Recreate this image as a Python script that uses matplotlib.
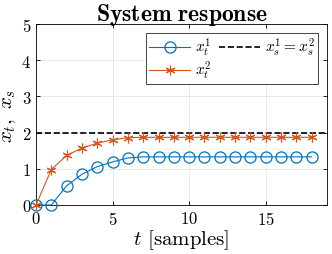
import numpy as np
import matplotlib
matplotlib.use('Agg')
import matplotlib.pyplot as plt

plt.rcParams['mathtext.fontset'] = 'cm'
plt.rcParams['font.family'] = 'serif'
plt.rcParams['font.serif'] = ['cmr10']
plt.rcParams['axes.formatter.use_mathtext'] = True

# data
t = list(range(19))
x1 = [0, 0, 0.53, 0.85, 1.06, 1.19, 1.30, 1.33, 1.33, 1.33, 1.33,
      1.33, 1.33, 1.33, 1.33, 1.33, 1.33, 1.33, 1.33]
x2 = [0, 0.98, 1.37, 1.57, 1.71, 1.80, 1.86, 1.87, 1.87, 1.87, 1.87,
      1.87, 1.87, 1.87, 1.87, 1.87, 1.87, 1.87, 1.87]
x_s = 2.0

blue = '#0072BD'
orange = '#D95319'

fig = plt.figure(figsize=(3.32, 2.55), dpi=100)
ax = fig.add_axes([36/332, 49/255, 291/332, 181/255])

l1, = ax.plot(t, x1, '-', marker='o', color=blue, lw=0.8, ms=8, mfc='none',
              mew=0.9, label=r'$x_t^1$', clip_on=False, zorder=3)
l2, = ax.plot(t, x2, '-', marker=(6, 2, 0), color=orange, lw=0.8, ms=7,
              mew=0.8, label=r'$x_t^2$', clip_on=False, zorder=3)
l3 = ax.axhline(x_s, color='k', ls='--', lw=1.2, label=r'$x_s^1 = x_s^2$')

ax.set_xlim(0, 19)
ax.set_ylim(0, 5)
ax.set_xticks([0, 5, 10, 15])
ax.set_yticks([0, 1, 2, 3, 4, 5])
ax.grid(True, color='#e6e6e6', lw=0.6)
ax.set_axisbelow(True)
ax.tick_params(direction='in', top=True, right=True, labelsize=12, length=3, width=0.6)
for sp in ax.spines.values():
    sp.set_linewidth(0.6)

ax.set_xlabel(r'$t$ [samples]', fontsize=15, labelpad=0)
ax.set_ylabel(r'$x_t,\ x_s$', fontsize=15, labelpad=2)
ax.set_title(r'$\mathbf{System\ response}$', fontsize=17, pad=3)

leg = ax.legend(handles=[l1, l2, l3], ncol=2, loc='upper right', fontsize=11,
                fancybox=False, edgecolor='#262626', framealpha=1,
                handlelength=2.7, handletextpad=0.3, columnspacing=0.5,
                borderpad=0.2, labelspacing=0.05, borderaxespad=0.6)
leg.get_frame().set_linewidth(0.6)

fig.savefig('out.png', dpi=100)
